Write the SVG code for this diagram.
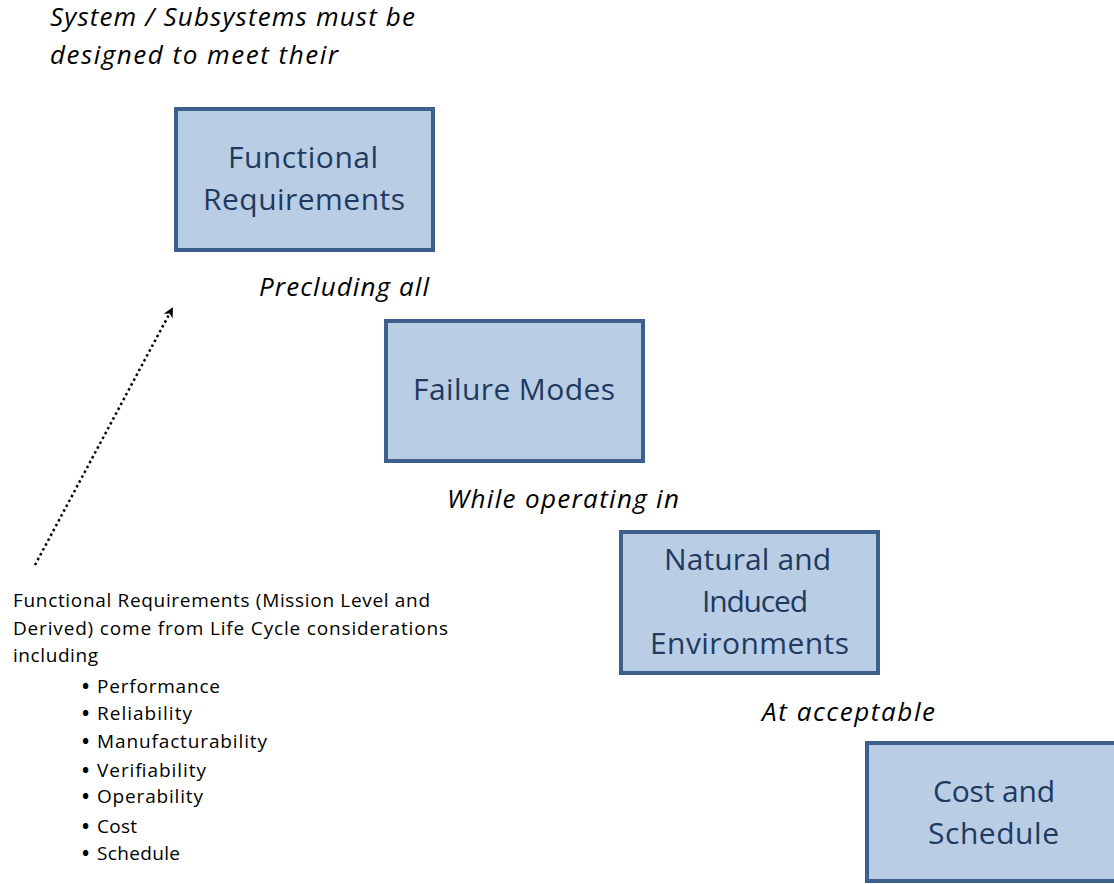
<svg xmlns="http://www.w3.org/2000/svg" width="1114" height="884" viewBox="0 0 1114 884">
<style>
.box{fill:#b9cde5;stroke:#3d5f8c;stroke-width:4;}
.bt{font-family:"Open Sans","Liberation Sans",sans-serif;font-size:30px;fill:#1f3a5f;}
.it{font-family:"Open Sans","Liberation Sans",sans-serif;font-size:26px;font-style:italic;fill:#000;}
.sm{font-family:"Open Sans","Liberation Sans",sans-serif;font-size:19px;fill:#000;}
.bu{font-weight:bold;}
</style>
<defs>
<marker id="ah" markerWidth="10" markerHeight="10" refX="8" refY="5" orient="auto" markerUnits="userSpaceOnUse">
<path d="M0,0 L10,5 L0,10 L3,5 Z" fill="#000"/>
</marker>
</defs>
<rect width="1114" height="884" fill="#fff"/>
<text class="it" x="50" y="26" textLength="365" lengthAdjust="spacing">System / Subsystems must be</text>
<text class="it" x="50" y="64" textLength="288" lengthAdjust="spacing">designed to  meet their</text>
<g id="n1">
<rect class="box" x="176" y="109" width="257" height="141"/>
<text class="bt" x="228" y="168" textLength="150" lengthAdjust="spacing">Functional</text>
<text class="bt" x="203" y="210" textLength="202" lengthAdjust="spacing">Requirements</text>
</g>
<text class="it" x="259" y="296" textLength="170" lengthAdjust="spacing">Precluding all</text>
<g id="n2">
<rect class="box" x="386" y="321" width="257" height="140"/>
<text class="bt" x="413" y="400" textLength="202" lengthAdjust="spacing">Failure Modes</text>
</g>
<text class="it" x="447" y="508" textLength="232" lengthAdjust="spacing">While operating in</text>
<g id="n3">
<rect class="box" x="621" y="532" width="257" height="141"/>
<text class="bt" x="664" y="570" textLength="167" lengthAdjust="spacing">Natural and</text>
<text class="bt" x="702" y="612" textLength="106" lengthAdjust="spacing">Induced</text>
<text class="bt" x="650" y="654" textLength="199" lengthAdjust="spacing">Environments</text>
</g>
<text class="it" x="762" y="721" textLength="173" lengthAdjust="spacing">At acceptable</text>
<g id="n4">
<rect class="box" x="867" y="743" width="260" height="138"/>
<text class="bt" x="933" y="802" textLength="122" lengthAdjust="spacing">Cost and</text>
<text class="bt" x="928" y="844" textLength="131" lengthAdjust="spacing">Schedule</text>
</g>
<g id="connectors">
<line x1="35" y1="565" x2="172" y2="309" stroke="#000" stroke-width="2.5" stroke-dasharray="2.5,3" marker-end="url(#ah)"/>
</g>
<g id="note">
<text class="sm" x="13" y="607" textLength="417" lengthAdjust="spacing">Functional Requirements (Mission Level and</text>
<text class="sm" x="13" y="635" textLength="435" lengthAdjust="spacing">Derived) come from Life Cycle considerations</text>
<text class="sm" x="13" y="662" textLength="85" lengthAdjust="spacing">including</text>
<text class="sm" y="693"><tspan class="bu" x="82">•</tspan><tspan x="97" textLength="123" lengthAdjust="spacing">Performance</tspan></text>
<text class="sm" y="720"><tspan class="bu" x="82">•</tspan><tspan x="97" textLength="95" lengthAdjust="spacing">Reliability</tspan></text>
<text class="sm" y="748"><tspan class="bu" x="82">•</tspan><tspan x="97" textLength="170" lengthAdjust="spacing">Manufacturability</tspan></text>
<text class="sm" y="777"><tspan class="bu" x="82">•</tspan><tspan x="97" textLength="109" lengthAdjust="spacing">Verifiability</tspan></text>
<text class="sm" y="803"><tspan class="bu" x="82">•</tspan><tspan x="97" textLength="106" lengthAdjust="spacing">Operability</tspan></text>
<text class="sm" y="833"><tspan class="bu" x="82">•</tspan><tspan x="97" textLength="40" lengthAdjust="spacing">Cost</tspan></text>
<text class="sm" y="860"><tspan class="bu" x="82">•</tspan><tspan x="97" textLength="83" lengthAdjust="spacing">Schedule</tspan></text>
</g>
</svg>
